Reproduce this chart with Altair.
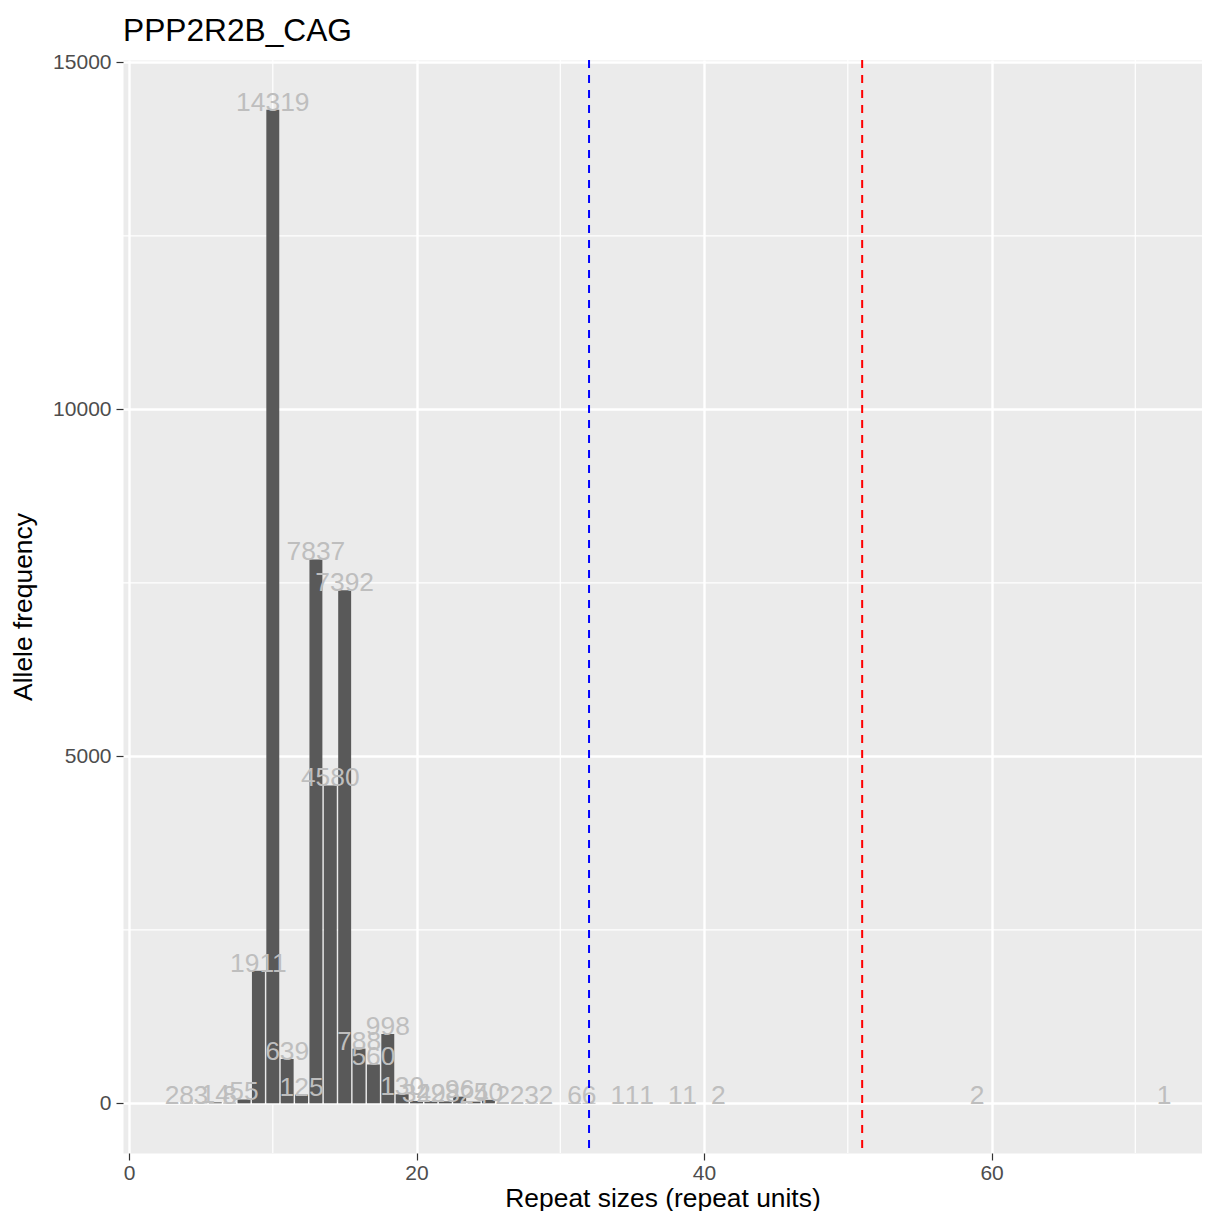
import altair as alt
import pandas as pd

# ---- data ----
repeats = [3, 4, 5, 6, 7, 8, 9, 10, 11, 12, 13, 14, 15, 16, 17, 18, 19, 20, 21, 22,
           23, 24, 25, 26, 27, 28, 29, 31, 32, 34, 35, 36, 38, 39, 41, 59, 72]
counts = [2, 8, 3, 14, 8, 55, 1911, 14319, 639, 125, 7837, 4580, 7392, 788, 560, 998, 130, 34, 29, 28,
          96, 24, 50, 2, 2, 3, 2, 6, 6, 1, 1, 1, 1, 1, 2, 2, 1]
x_ticks = [0, 20, 40, 60]
y_ticks = [0, 5000, 10000, 15000]
minor_x = [10, 30, 50, 70]
minor_y = [2500, 7500, 12500]
vline_pos = [32, 51]
vline_col = ["#0000FF", "#FF0000"]

FONT = "Liberation Sans"

df = pd.DataFrame({"repeat": repeats, "count": counts})
df["label"] = df["count"].astype(str)

xs = alt.Scale(domain=[-0.42, 74.64], nice=False, zero=False)
ys = alt.Scale(domain=[-716, 15035], nice=False, zero=False)

x_axis = alt.Axis(values=x_ticks, format="d", title="Repeat sizes (repeat units)",
                  grid=True, gridColor="white", gridWidth=2.4, domain=False,
                  tickColor="#333333", tickWidth=1.2, tickSize=7,
                  labelFont=FONT, labelFontSize=21, labelColor="#4D4D4D", labelPadding=2,
                  titleFont=FONT, titleFontSize=26.4, titleColor="black", titleFontWeight="normal",
                  titleBaseline="alphabetic", titleY=53)
y_axis = alt.Axis(values=y_ticks, format="d", title="Allele frequency",
                  grid=True, gridColor="white", gridWidth=2.4, domain=False,
                  tickColor="#333333", tickWidth=1.2, tickSize=7,
                  labelFont=FONT, labelFontSize=21, labelColor="#4D4D4D", labelPadding=5,
                  titleFont=FONT, titleFontSize=26.4, titleColor="black", titleFontWeight="normal",
                  titleAngle=270, titleBaseline="alphabetic", titleAlign="center",
                  titleX=-92, titleY=546.5)

minor_x_rules = alt.Chart(pd.DataFrame({"v": minor_x})).mark_rule(
    color="white", strokeWidth=1.2).encode(x=alt.X("v:Q", scale=xs, axis=x_axis))
minor_y_rules = alt.Chart(pd.DataFrame({"v": minor_y})).mark_rule(
    color="white", strokeWidth=1.2).encode(y=alt.Y("v:Q", scale=ys, axis=y_axis))

bars = alt.Chart(df).transform_calculate(
    x0="datum.repeat - 0.45", x1="datum.repeat + 0.45"
).mark_bar(color="#595959").encode(
    x=alt.X("x0:Q", scale=xs, axis=x_axis),
    x2="x1:Q",
    y=alt.Y("count:Q", scale=ys, axis=y_axis),
    y2=alt.datum(0),
)

labels = alt.Chart(df).mark_text(
    baseline="alphabetic", align="center", dy=1, fontSize=26.4, font=FONT, color="#BEBEBE"
).encode(
    x=alt.X("repeat:Q", scale=xs, axis=x_axis),
    y=alt.Y("count:Q", scale=ys, axis=y_axis),
    text="label:N",
)

vlines = alt.Chart(pd.DataFrame({"pos": vline_pos, "col": vline_col})).mark_rule(
    strokeDash=[8, 7], strokeWidth=2
).encode(
    x=alt.X("pos:Q", scale=xs, axis=x_axis),
    color=alt.Color("col:N", scale=None),
)

chart = alt.layer(minor_x_rules, minor_y_rules, bars, labels, vlines).properties(
    width=1079, height=1093,
    autosize=alt.AutoSizeParams(type="none"),
    padding={"left": 115, "top": 52, "right": 0, "bottom": 58},
    title=alt.TitleParams("PPP2R2B_CAG", anchor="start", frame="group", fontSize=31.7,
                          font=FONT, fontWeight="normal", color="black",
                          baseline="alphabetic", offset=20, dy=41),
).configure_view(fill="#EBEBEB", stroke="transparent")

chart.save("out.html", embed_options={"renderer": "svg", "actions": False})
